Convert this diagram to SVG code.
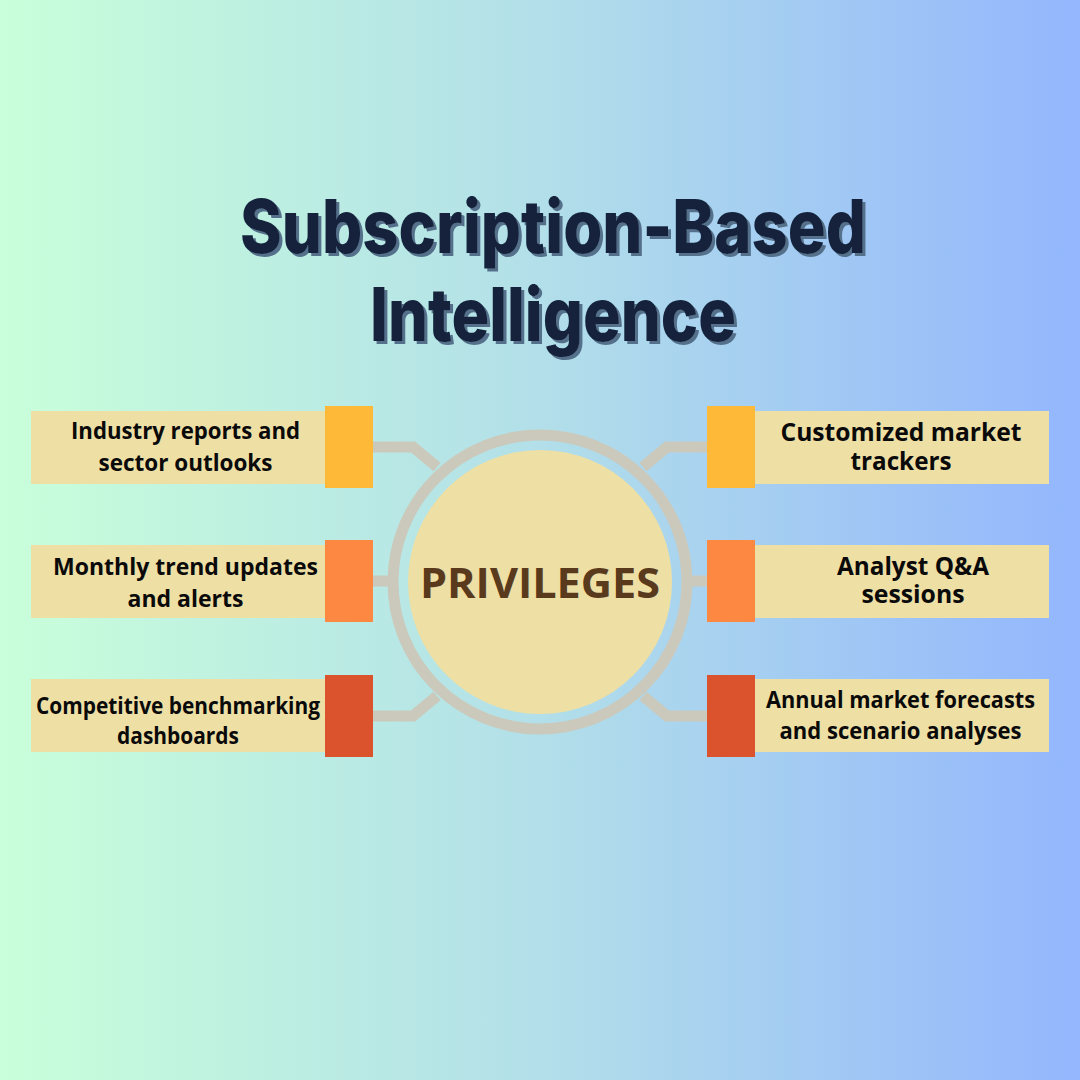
<svg xmlns="http://www.w3.org/2000/svg" width="1080" height="1080" viewBox="0 0 1080 1080">
<style>
.title{font-family:"Inter","Lato","Liberation Sans",sans-serif;font-weight:800;font-size:74px;text-anchor:middle;fill:#12243b;font-variant-ligatures:none}
.lab{font-family:"Open Sans","Noto Sans",sans-serif;font-weight:700;font-size:23.4px;fill:#0a0a0a;text-anchor:middle}
.band{fill:#eedfa5}
.c{fill:none;stroke:#cbc9bb;stroke-width:11}
</style>
<defs><linearGradient id="bg" x1="0" y1="0" x2="1" y2="0"><stop offset="0" stop-color="#c9ffda"/><stop offset="0.5" stop-color="#b2dfe9"/><stop offset="1" stop-color="#93b6fd"/></linearGradient>
<filter id="sh" x="-5%" y="-20%" width="110%" height="140%"><feDropShadow dx="3" dy="3" stdDeviation="0.3" flood-color="#54708a"/></filter></defs>
<rect width="1080" height="1080" fill="url(#bg)"/>
<g id="title" filter="url(#sh)">
<text class="title" x="553" y="253" textLength="626" lengthAdjust="spacingAndGlyphs">Subscription-Based</text>
<text class="title" x="553" y="341" textLength="366" lengthAdjust="spacingAndGlyphs">Intelligence</text>
</g>
<g id="connectors">
<path class="c" d="M373 447H413L437 467"/><path class="c" d="M373 581H390"/><path class="c" d="M373 716H413L437 696"/>
<path class="c" d="M707 447H667L643 467"/><path class="c" d="M707 581H690"/><path class="c" d="M707 716H667L643 696"/>
</g>
<g id="hub">
<circle class="c" cx="540" cy="582" r="147"/>
<circle cx="540" cy="582" r="132" fill="#eedfa5"/>
<text x="540" y="598" font-family="Open Sans,Noto Sans,sans-serif" font-weight="700" font-size="41" fill="#5a3a1c" text-anchor="middle" textLength="240" lengthAdjust="spacingAndGlyphs">PRIVILEGES</text>
</g>
<g id="n1"><rect class="band" x="31" y="411" width="295" height="73"/><rect x="325" y="406" width="48" height="82" fill="#ffb938"/>
<text class="lab" x="185.500" y="439" textLength="229" lengthAdjust="spacingAndGlyphs">Industry reports and</text><text class="lab" x="185.500" y="471" textLength="174" lengthAdjust="spacingAndGlyphs">sector outlooks</text></g>
<g id="n2"><rect class="band" x="31" y="545" width="295" height="73"/><rect x="325" y="540" width="48" height="82" fill="#fd8841"/>
<text class="lab" x="185.500" y="575" textLength="265" lengthAdjust="spacingAndGlyphs">Monthly trend updates</text><text class="lab" x="185.500" y="607" textLength="116" lengthAdjust="spacingAndGlyphs">and alerts</text></g>
<g id="n3"><rect class="band" x="31" y="679" width="295" height="73"/><rect x="325" y="675" width="48" height="82" fill="#da532c"/>
<text class="lab" x="178" y="714" textLength="284" lengthAdjust="spacingAndGlyphs" style="font-size:22.5px">Competitive benchmarking</text><text class="lab" x="178" y="744" textLength="122" lengthAdjust="spacingAndGlyphs" style="font-size:22.5px">dashboards</text></g>
<g id="n4"><rect class="band" x="754" y="411" width="295" height="73"/><rect x="707" y="406" width="48" height="82" fill="#ffb938"/>
<text class="lab" x="901" y="441" textLength="241" lengthAdjust="spacingAndGlyphs" style="font-size:24.7px">Customized market</text><text class="lab" x="901" y="470" textLength="101" lengthAdjust="spacingAndGlyphs" style="font-size:24.7px">trackers</text></g>
<g id="n5"><rect class="band" x="754" y="545" width="295" height="73"/><rect x="707" y="540" width="48" height="82" fill="#fd8841"/>
<text class="lab" x="913" y="575" textLength="152" lengthAdjust="spacingAndGlyphs" style="font-size:24.5px">Analyst Q&amp;A</text><text class="lab" x="913" y="603" textLength="103" lengthAdjust="spacingAndGlyphs" style="font-size:24.5px">sessions</text></g>
<g id="n6"><rect class="band" x="754" y="679" width="295" height="73"/><rect x="707" y="675" width="48" height="82" fill="#da532c"/>
<text class="lab" x="900.500" y="708" textLength="269" lengthAdjust="spacingAndGlyphs" style="font-size:22.5px">Annual market forecasts</text><text class="lab" x="900.500" y="739" textLength="242" lengthAdjust="spacingAndGlyphs" style="font-size:22.5px">and scenario analyses</text></g>
</svg>
